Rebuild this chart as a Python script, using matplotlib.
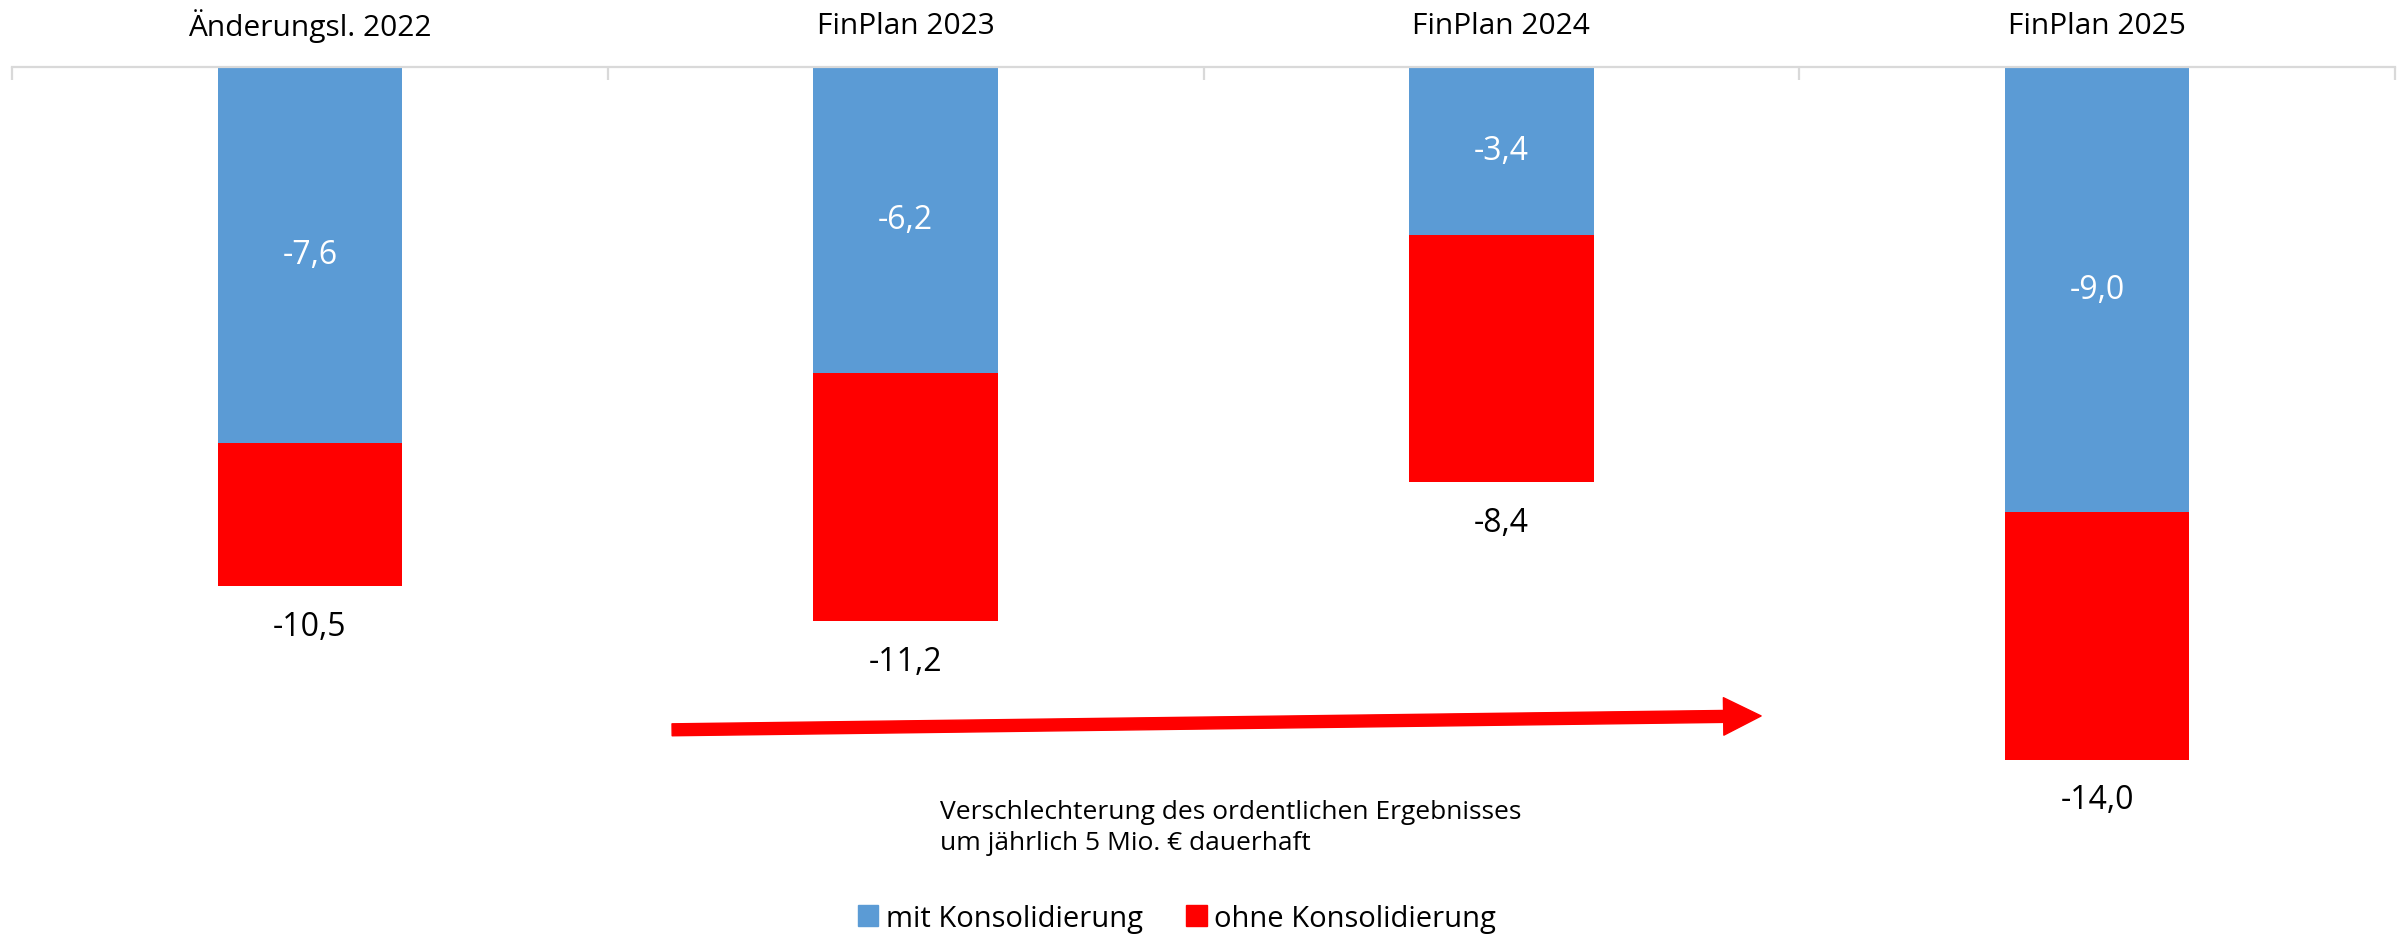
import matplotlib
matplotlib.use('Agg')
import matplotlib.pyplot as plt  # noqa: E402
from matplotlib.patches import FancyArrowPatch, Patch  # noqa: E402

# data
categories = ['Änderungsl. 2022', 'FinPlan 2023', 'FinPlan 2024', 'FinPlan 2025']
mit_konsolidierung = [-7.6, -6.2, -3.4, -9.0]
ohne_konsolidierung = [-10.5, -11.2, -8.4, -14.0]
series_labels = ['mit Konsolidierung', 'ohne Konsolidierung']
note = 'Verschlechterung des ordentlichen Ergebnisses\num jährlich 5 Mio. € dauerhaft'

BLUE = '#5B9BD5'
RED = '#FF0000'
GRID = '#D9D9D9'
FONT = ['Open Sans', 'DejaVu Sans']


def fmt(v):
    return f'{v:.1f}'.replace('.', ',')


fig = plt.figure(figsize=(24.07, 9.37), dpi=100)
# axis line at y=67 px from top, 49.5 px per unit
top = 1 - 67.5 / 937
bottom = 1 - 800 / 937
ax = fig.add_axes([12 / 2407, bottom, 2383 / 2407, top - bottom])
ymin = -(800 - 67.5) / 49.5
ax.set_ylim(ymin, 0)
ax.set_xlim(-0.5, len(categories) - 0.5)

x = list(range(len(categories)))
width = 0.31
red_h = [o - m for o, m in zip(ohne_konsolidierung, mit_konsolidierung)]
ax.bar(x, mit_konsolidierung, width, color=BLUE, label=series_labels[0])
ax.bar(x, red_h, width, bottom=mit_konsolidierung, color=RED, label=series_labels[1])

for i, (m, o) in enumerate(zip(mit_konsolidierung, ohne_konsolidierung)):
    ax.text(i, m / 2, fmt(m), ha='center', va='center', color='white',
            fontsize=23, family=FONT)
    ax.annotate(fmt(o), (i, o), xytext=(0, -29), textcoords='offset points',
                ha='center', va='center', color='black', fontsize=23, family=FONT)
    ax.annotate(categories[i], (i, 1), xycoords=('data', 'axes fraction'),
                xytext=(0, 29.5), textcoords='offset points',
                ha='center', va='center', fontsize=21.5, family=FONT)

# spines / ticks
for s in ['left', 'right', 'bottom']:
    ax.spines[s].set_visible(False)
ax.spines['top'].set_color(GRID)
ax.spines['top'].set_linewidth(1.6)
ax.set_yticks([])
ax.xaxis.tick_top()
ax.set_xticks([i - 0.5 for i in range(len(categories) + 1)])
ax.set_xticklabels([])
ax.tick_params(axis='x', direction='in', length=9, width=1.6, color=GRID)

# arrow
arrow = FancyArrowPatch((0.608, -13.40), (2.436, -13.12),
                        arrowstyle='simple,head_length=27,head_width=27,tail_width=8.6',
                        mutation_scale=1, color=RED, shrinkA=0, shrinkB=0,
                        clip_on=False)
ax.add_patch(arrow)

fig.text(940 / 2407, 1 - 828 / 937, note, ha='left', va='center',
         fontsize=19, family=FONT, linespacing=1.27)

handles = [Patch(color=BLUE), Patch(color=RED)]
fig.legend(handles, series_labels, loc='center', bbox_to_anchor=(0.489, 0.019),
           ncol=2, frameon=False, prop={'family': FONT, 'size': 21},
           handlelength=0.7, handleheight=0.7, handletextpad=0.25,
           columnspacing=1.5)

fig.savefig('out.png', dpi=100)
plt.close(fig)
